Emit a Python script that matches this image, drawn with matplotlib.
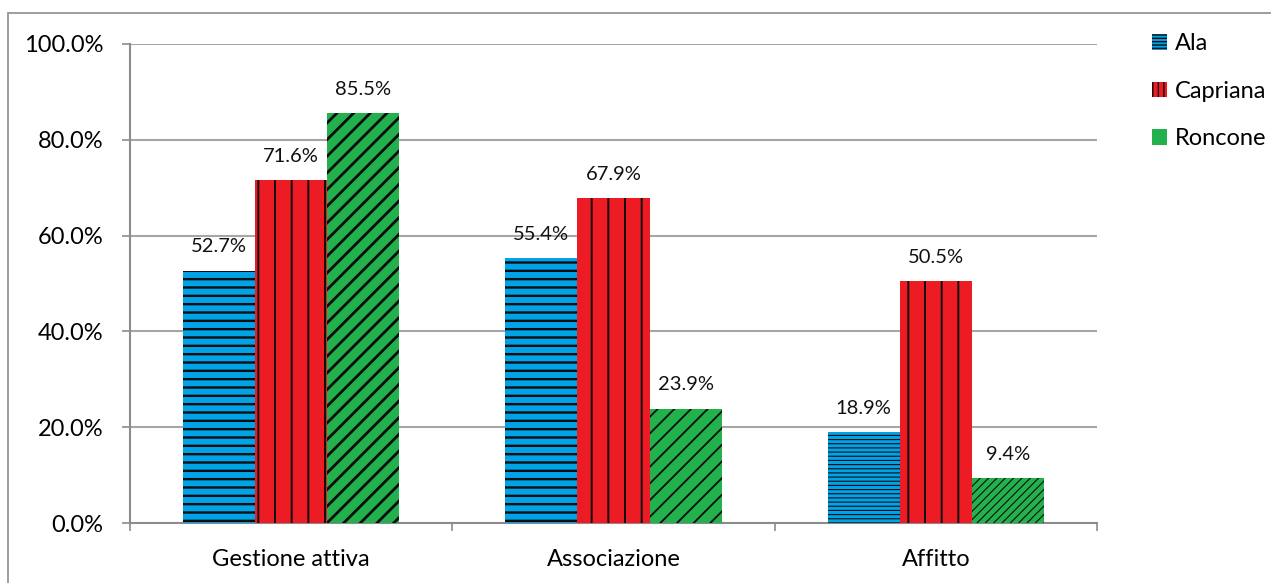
import matplotlib.pyplot as plt
import matplotlib.patches as mpatches
from matplotlib.ticker import PercentFormatter
import numpy as np

plt.rcParams['font.family'] = ['Lato', 'DejaVu Sans']

categories = ['Gestione attiva', 'Associazione', 'Affitto']
series = ['Ala', 'Capriana', 'Roncone']
ala = [52.7, 55.4, 18.9]
capriana = [71.6, 67.9, 50.5]
roncone = [85.5, 23.9, 9.4]

colors = ['#00A2E8', '#ED1C24', '#22B14C']
hatches = [['--', '--', '----'],
           ['|', '|', '|'],
           ['//', '//', '////']]
hatch_lw = [[1.7, 1.7, 0.8],
            [1.4, 1.4, 1.4],
            [2.0, 1.3, 0.8]]
legend_hatches = ['-----', '|||', None]

fig = plt.figure(figsize=(12.71, 5.83), dpi=100)
ax = fig.add_axes([130 / 1271, 1 - 523 / 583, 967 / 1271, 479 / 583])

# outer chart border
fig.patches.append(mpatches.Rectangle((8 / 1271, -0.05), 1.2, 1 - 13 / 583 + 0.05,
                                      transform=fig.transFigure, fill=False,
                                      edgecolor='#8c8c8c', linewidth=1.2))

x = np.arange(len(categories))
w = 72 / 322
for i, (name, vals) in enumerate(zip(series, [ala, capriana, roncone])):
    bars = ax.bar(x + (i - 1) * w, vals, w, color=colors[i], edgecolor=colors[i],
                  linewidth=0, label=name, zorder=3)
    for b, h, lw in zip(bars, hatches[i], hatch_lw[i]):
        b.set_hatch(h)
        b._hatch_color = (0.05, 0.05, 0.05, 1)
        try:
            b.set_hatch_linewidth(lw)
        except AttributeError:
            pass
    for xi, v in zip(x + (i - 1) * w, vals):
        ax.annotate(f'{v:.1f}%', (xi, v), xytext=(0, 17), textcoords='offset points',
                    ha='center', va='center', fontsize=14.5, color='#111111')

ax.set_xlim(-0.5, 2.5)
ax.set_ylim(0, 100)
ax.set_yticks(np.arange(0, 101, 20))
ax.yaxis.set_major_formatter(PercentFormatter(decimals=1))
ax.grid(axis='y', color='#a6a6a6', linewidth=1.5, zorder=0)
ax.set_xticks([-0.5, 0.5, 1.5, 2.5])
ax.set_xticklabels([])
ax.set_xticks(x, minor=True)
ax.set_xticklabels(categories, minor=True)
ax.tick_params(axis='x', which='minor', length=0, pad=19, labelsize=17)
ax.tick_params(axis='x', which='major', length=6, color='#8c8c8c', width=1.2)
ax.tick_params(axis='y', length=6, color='#8c8c8c', width=1.2, labelsize=17, pad=13)
for s in ['top', 'right']:
    ax.spines[s].set_visible(False)
for s in ['left', 'bottom']:
    ax.spines[s].set_color('#8c8c8c')
    ax.spines[s].set_linewidth(1.5)

handles = []
for name, c, h in zip(series, colors, legend_hatches):
    p = mpatches.Patch(facecolor=c, edgecolor=c, linewidth=0, hatch=h, label=name)
    p._hatch_color = (0.05, 0.05, 0.05, 1)
    try:
        p.set_hatch_linewidth(0.6)
    except AttributeError:
        pass
    handles.append(p)

leg = ax.legend(handles=handles, loc='upper left', bbox_to_anchor=((1152 - 130) / 967, 1.022),
                frameon=False, fontsize=17, handlelength=0.65, handleheight=0.65,
                handletextpad=0.3, labelspacing=1.12, borderaxespad=0, borderpad=0)

fig.savefig('out.png', dpi=100)
